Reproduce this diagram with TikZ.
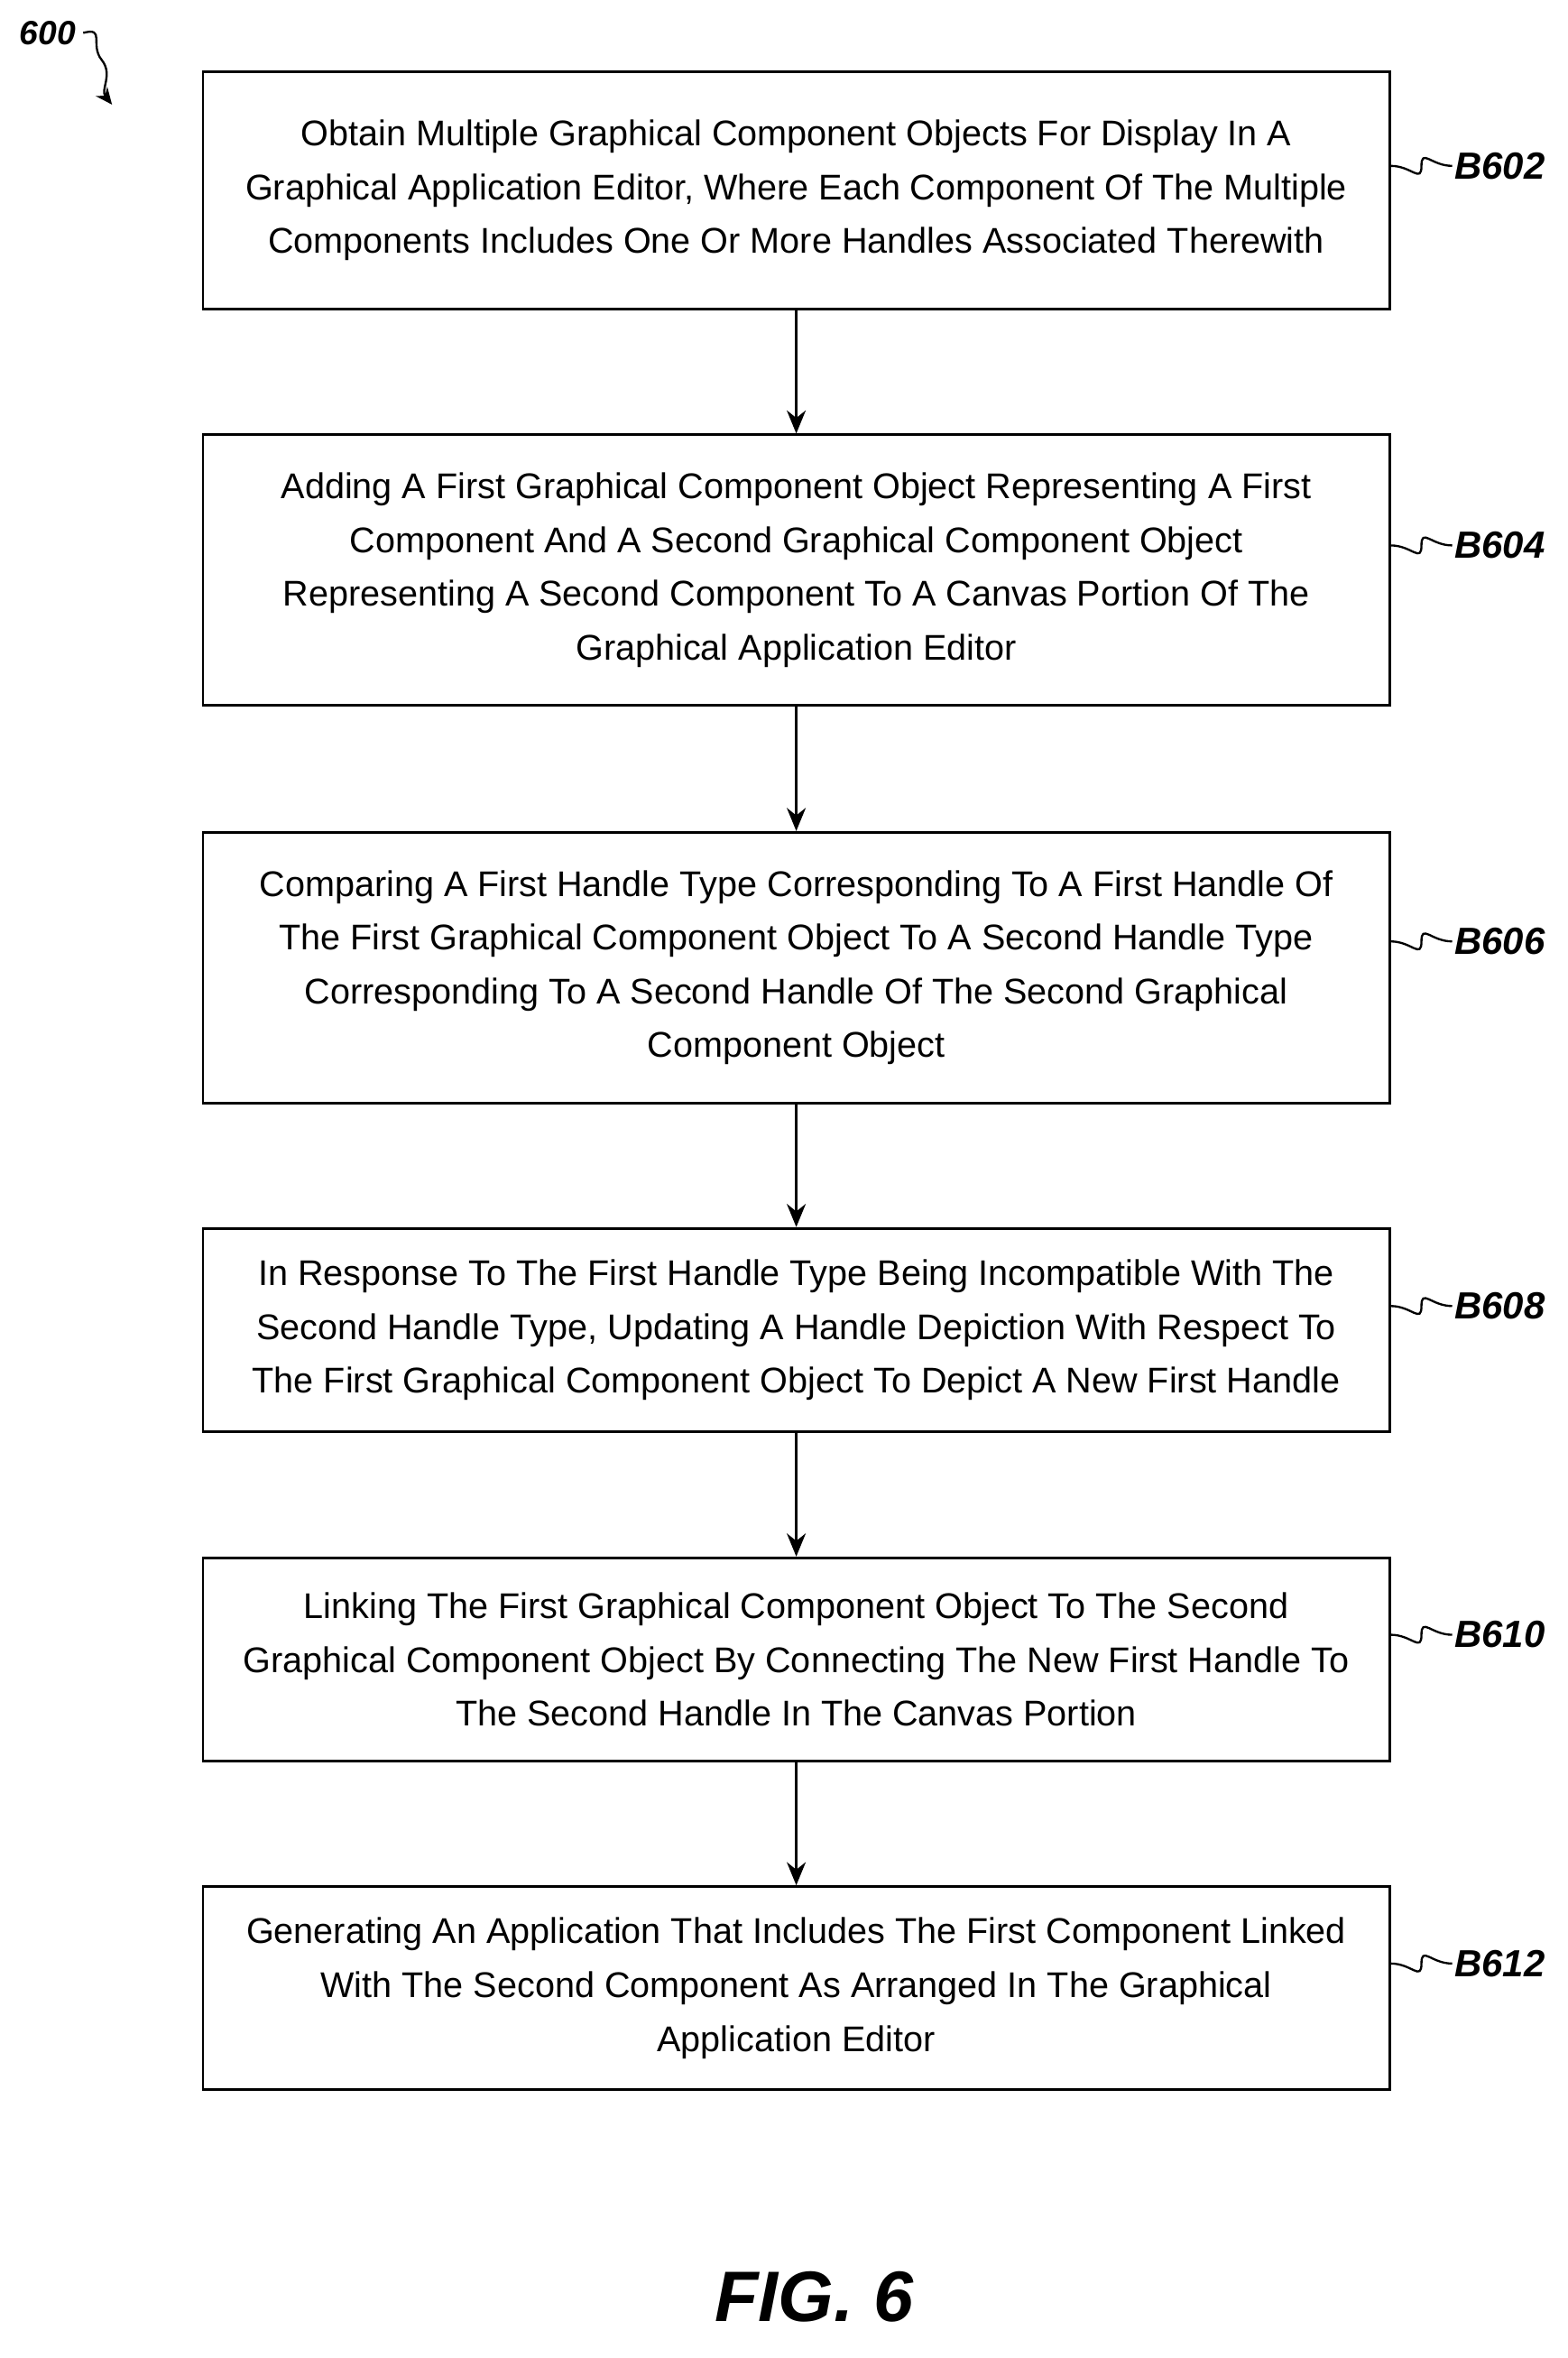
\documentclass[tikz,border=0pt]{standalone}
\usepackage{fontspec}
\setmainfont{Liberation Sans}
\usetikzlibrary{arrows.meta,calc}
\tikzset{
  stepbox/.style={draw, line width=1.2pt, minimum width=19.85cm, align=center,
    font=\fontsize{17}{25.6}\selectfont, inner sep=0pt},
  tag/.style={anchor=west, font=\fontsize{18}{20}\selectfont\bfseries\itshape, inner sep=1pt},
  flow/.style={line width=1.2pt, -{Stealth[length=11pt,width=9pt]}},
  wave/.style={line width=1pt}
}
\begin{document}
\begin{tikzpicture}[x=0.025cm, y=-0.025cm]
\useasboundingbox (0,0) rectangle (1049,1578);

\node[stepbox, minimum height=3.975cm] (b602) at (533,127.5)
  {Obtain Multiple Graphical Component Objects For Display In A\\
   Graphical Application Editor, Where Each Component Of The Multiple\\
   Components Includes One Or More Handles Associated Therewith};
\node[stepbox, minimum height=4.525cm] (b604) at (533,381.5)
  {Adding A First Graphical Component Object Representing A First\\
   Component And A Second Graphical Component Object\\
   Representing A Second Component To A Canvas Portion Of The\\
   Graphical Application Editor};
\node[stepbox, minimum height=4.525cm] (b606) at (533,647.5)
  {Comparing A First Handle Type Corresponding To A First Handle Of\\
   The First Graphical Component Object To A Second Handle Type\\
   Corresponding To A Second Handle Of The Second Graphical\\
   Component Object};
\node[stepbox, minimum height=3.4cm] (b608) at (533,890)
  {In Response To The First Handle Type Being Incompatible With The\\
   Second Handle Type, Updating A Handle Depiction With Respect To\\
   The First Graphical Component Object To Depict A New First Handle};
\node[stepbox, minimum height=3.4cm] (b610) at (533,1110.5)
  {Linking The First Graphical Component Object To The Second\\
   Graphical Component Object By Connecting The New First Handle To\\
   The Second Handle In The Canvas Portion};
\node[stepbox, minimum height=3.4cm] (b612) at (533,1330.5)
  {Generating An Application That Includes The First Component Linked\\
   With The Second Component As Arranged In The Graphical\\
   Application Editor};

\foreach \a/\b in {b602/b604, b604/b606, b606/b608, b608/b610, b610/b612}
  \draw[flow] (\a) -- (\b);

% step labels
\foreach \n/\y in {602/111, 604/365, 606/630, 608/874, 610/1094, 612/1314} {
  \node[tag] (t\n) at (972,\y) {B\n};
  \draw[wave] (b\n.east |- t\n.west) .. controls +(14,0) and +(0,12) ..
    ($(b\n.east |- t\n.west)!0.5!(t\n.west)$)
    .. controls +(0,-12) and +(-14,0) .. (t\n.west);
}

\node[font=\fontsize{16}{18}\selectfont\bfseries\itshape] (fig) at (32,22) {600};
\coordinate (fig end) at (75,70);
\draw[line width=1pt, -{Stealth[length=8pt,width=7pt]}] (fig.east) .. controls +(15,-4) and +(-8,-10) ..
  (68,40) .. controls +(8,10) and +(-8,-10) .. (fig end);

\node[font=\fontsize{34}{40}\selectfont\bfseries\itshape] (cap) at (545,1537) {FIG. 6};
\end{tikzpicture}
\end{document}
